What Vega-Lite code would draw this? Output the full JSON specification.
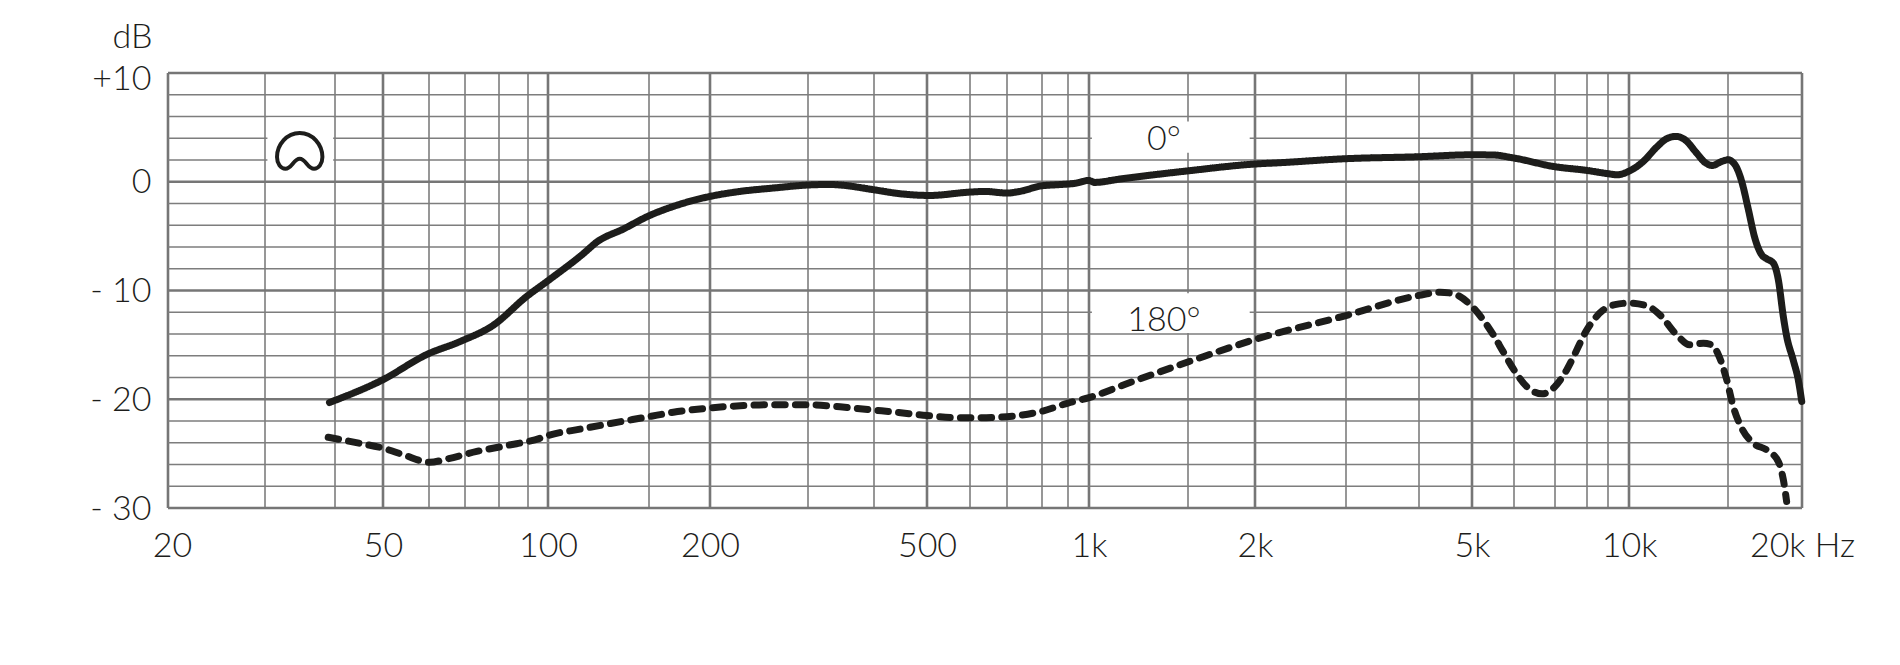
{"$schema":"https://vega.github.io/schema/vega-lite/v6.json","width":1634,"height":435,"autosize":"none","padding":{"left":168,"top":73,"right":98,"bottom":157},"background":"white","config":{"view":{"stroke":null},"text":{"font":"Lato"}},
"datasets":{
"minorF":[{"f":30},{"f":40},{"f":60},{"f":70},{"f":80},{"f":90},{"f":150},{"f":300},{"f":400},{"f":600},{"f":700},{"f":800},{"f":900},{"f":1500},{"f":3000},{"f":4000},{"f":6000},{"f":7000},{"f":8000},{"f":9000},{"f":15000}],
"majorF":[{"f":20},{"f":50},{"f":100},{"f":200},{"f":500},{"f":1000},{"f":2000},{"f":5000},{"f":10000},{"f":20000}],
"minorDb":[{"db":8},{"db":6},{"db":4},{"db":2},{"db":-2},{"db":-4},{"db":-6},{"db":-8},{"db":-12},{"db":-14},{"db":-16},{"db":-18},{"db":-22},{"db":-24},{"db":-26},{"db":-28}],
"majorDb":[{"db":10},{"db":0},{"db":-10},{"db":-20},{"db":-30}],
"patches":[{"f":30.3,"f2":39.7,"db":5.9,"db2":0.2},{"f":1012,"f2":1955,"db":5.55,"db2":2.67},{"f":1012,"f2":1955,"db":-10.25,"db2":-13.9}],
"labels":[{"f":1359,"db":2.88,"text":"0°"},{"f":1359,"db":-13.68,"text":"180°"}],
"icon":[{"f":34.6,"db":2.85}],
"curves":[
{"angle":"0°","f":39.1,"db":-20.3},{"angle":"0°","f":50,"db":-18.2},{"angle":"0°","f":59.4,"db":-15.9},{"angle":"0°","f":68.5,"db":-14.7},{"angle":"0°","f":78.2,"db":-13.2},{"angle":"0°","f":89.5,"db":-10.55},{"angle":"0°","f":100,"db":-9.1},{"angle":"0°","f":115.3,"db":-6.6},{"angle":"0°","f":121.6,"db":-5.55},{"angle":"0°","f":135.3,"db":-4.35},{"angle":"0°","f":150,"db":-3.13},{"angle":"0°","f":168.2,"db":-2.27},{"angle":"0°","f":200,"db":-1.35},{"angle":"0°","f":226.5,"db":-0.89},{"angle":"0°","f":259.8,"db":-0.58},{"angle":"0°","f":300,"db":-0.3},{"angle":"0°","f":330,"db":-0.25},{"angle":"0°","f":345,"db":-0.3},{"angle":"0°","f":400,"db":-0.74},{"angle":"0°","f":446,"db":-1.1},{"angle":"0°","f":506,"db":-1.26},{"angle":"0°","f":600,"db":-0.95},{"angle":"0°","f":638,"db":-0.89},{"angle":"0°","f":700,"db":-1.04},{"angle":"0°","f":735,"db":-0.89},{"angle":"0°","f":800,"db":-0.37},{"angle":"0°","f":854,"db":-0.28},{"angle":"0°","f":940,"db":-0.12},{"angle":"0°","f":997,"db":0.12},{"angle":"0°","f":1025,"db":-0.06},{"angle":"0°","f":1135,"db":0.25},{"angle":"0°","f":1500,"db":1.0},{"angle":"0°","f":2000,"db":1.63},{"angle":"0°","f":2236,"db":1.75},{"angle":"0°","f":3000,"db":2.12},{"angle":"0°","f":4000,"db":2.3},{"angle":"0°","f":5000,"db":2.48},{"angle":"0°","f":5485,"db":2.46},{"angle":"0°","f":6000,"db":2.18},{"angle":"0°","f":7000,"db":1.38},{"angle":"0°","f":8000,"db":1.04},{"angle":"0°","f":9000,"db":0.74},{"angle":"0°","f":9413,"db":0.64},{"angle":"0°","f":10000,"db":0.97},{"angle":"0°","f":10605,"db":1.87},{"angle":"0°","f":11203,"db":3.19},{"angle":"0°","f":11670,"db":3.96},{"angle":"0°","f":12110,"db":4.17},{"angle":"0°","f":12580,"db":3.86},{"angle":"0°","f":13190,"db":2.64},{"angle":"0°","f":13650,"db":1.78},{"angle":"0°","f":14060,"db":1.5},{"angle":"0°","f":14620,"db":1.87},{"angle":"0°","f":15000,"db":2.02},{"angle":"0°","f":15415,"db":1.56},{"angle":"0°","f":15820,"db":0.03},{"angle":"0°","f":16240,"db":-2.58},{"angle":"0°","f":16650,"db":-5.18},{"angle":"0°","f":17100,"db":-6.72},{"angle":"0°","f":17430,"db":-7.08},{"angle":"0°","f":17890,"db":-7.48},{"angle":"0°","f":18240,"db":-9.0},{"angle":"0°","f":18600,"db":-12.4},{"angle":"0°","f":18840,"db":-14.2},{"angle":"0°","f":19330,"db":-16.4},{"angle":"0°","f":19710,"db":-18.2},{"angle":"0°","f":19980,"db":-20.2},
{"angle":"180°","f":38.9,"db":-23.5},{"angle":"180°","f":44.9,"db":-24.05},{"angle":"180°","f":50,"db":-24.5},{"angle":"180°","f":54.2,"db":-25.1},{"angle":"180°","f":60.2,"db":-25.8},{"angle":"180°","f":64.7,"db":-25.5},{"angle":"180°","f":73.3,"db":-24.8},{"angle":"180°","f":82.5,"db":-24.26},{"angle":"180°","f":95.8,"db":-23.6},{"angle":"180°","f":100,"db":-23.34},{"angle":"180°","f":113.7,"db":-22.75},{"angle":"180°","f":124.9,"db":-22.35},{"angle":"180°","f":150,"db":-21.6},{"angle":"180°","f":168.2,"db":-21.2},{"angle":"180°","f":200,"db":-20.8},{"angle":"180°","f":226.5,"db":-20.6},{"angle":"180°","f":259.8,"db":-20.5},{"angle":"180°","f":300,"db":-20.5},{"angle":"180°","f":345,"db":-20.7},{"angle":"180°","f":400,"db":-21.0},{"angle":"180°","f":440,"db":-21.2},{"angle":"180°","f":500,"db":-21.5},{"angle":"180°","f":571,"db":-21.7},{"angle":"180°","f":625,"db":-21.7},{"angle":"180°","f":700,"db":-21.6},{"angle":"180°","f":800,"db":-21.1},{"angle":"180°","f":900,"db":-20.35},{"angle":"180°","f":1000,"db":-19.85},{"angle":"180°","f":1183,"db":-18.46},{"angle":"180°","f":1535,"db":-16.4},{"angle":"180°","f":2000,"db":-14.5},{"angle":"180°","f":3000,"db":-12.3},{"angle":"180°","f":4000,"db":-10.45},{"angle":"180°","f":4368,"db":-10.15},{"angle":"180°","f":4625,"db":-10.3},{"angle":"180°","f":5000,"db":-11.47},{"angle":"180°","f":5250,"db":-12.7},{"angle":"180°","f":5485,"db":-14.08},{"angle":"180°","f":5720,"db":-15.6},{"angle":"180°","f":6000,"db":-17.3},{"angle":"180°","f":6293,"db":-18.83},{"angle":"180°","f":6670,"db":-19.5},{"angle":"180°","f":7000,"db":-18.83},{"angle":"180°","f":7350,"db":-17.3},{"angle":"180°","f":7510,"db":-16.4},{"angle":"180°","f":8000,"db":-13.6},{"angle":"180°","f":8760,"db":-11.8},{"angle":"180°","f":9320,"db":-11.3},{"angle":"180°","f":10000,"db":-11.16},{"angle":"180°","f":10750,"db":-11.4},{"angle":"180°","f":11350,"db":-12.24},{"angle":"180°","f":12160,"db":-14.08},{"angle":"180°","f":12840,"db":-15.0},{"angle":"180°","f":13560,"db":-14.84},{"angle":"180°","f":14030,"db":-15.0},{"angle":"180°","f":14420,"db":-15.9},{"angle":"180°","f":14920,"db":-18.2},{"angle":"180°","f":15310,"db":-20.67},{"angle":"180°","f":15820,"db":-22.66},{"angle":"180°","f":16550,"db":-24.04},{"angle":"180°","f":17430,"db":-24.66},{"angle":"180°","f":18240,"db":-25.73},{"angle":"180°","f":18600,"db":-27.4},{"angle":"180°","f":18840,"db":-29.4}
]},
"layer":[
{"data":{"name":"minorF"},"mark":{"type":"rule","stroke":"#7d7d7d","strokeWidth":1.6},"encoding":{"x":{"field":"f","type":"quantitative","scale":{"type":"log","nice":false,"padding":0,"domain":[20,30,40,50,60,70,80,90,100,150,200,300,400,500,600,700,800,900,1000,1500,2000,3000,4000,5000,6000,7000,8000,9000,10000,15000,20000],"range":[0,97,167,215,261,297,331,360,380,481,542,640,706,759,802,839,874,900,921,1020,1087,1178,1251,1304,1346,1387,1419,1440,1461,1560,1634]},"axis":{"values":[20,50,100,200,500,1000,2000,5000,10000,20000],"title":null,"domain":false,"ticks":false,"grid":false,"labelExpr":"datum.value==20000?'20k Hz':(datum.value>=1000?(datum.value/1000)+'k':''+datum.value)","labelFont":"Lato","labelFontWeight":300,"labelFontSize":34,"labelColor":"#1d1d1b","labelAlign":"center","labelBaseline":"alphabetic","labelPadding":48,"labelOffset":{"condition":{"test":"datum.value==20","value":4},"value":0},"labelFlush":false,"labelOverlap":false,"labelBound":false}}}},
{"data":{"name":"majorF"},"mark":{"type":"rule","stroke":"#767676","strokeWidth":2.6},"encoding":{"x":{"field":"f","type":"quantitative"}}},
{"data":{"name":"minorDb"},"mark":{"type":"rule","stroke":"#7d7d7d","strokeWidth":1.6},"encoding":{"y":{"field":"db","type":"quantitative","scale":{"domain":[-30,10],"nice":false,"zero":false,"padding":0},"axis":{"values":[-30,-20,-10,0,10],"title":"dB","titleAngle":0,"titleAlign":"right","titleBaseline":"alphabetic","titleX":-16,"titleY":-26,"titleFont":"Lato","titleFontWeight":300,"titleFontSize":34,"titleColor":"#1d1d1b","domain":false,"ticks":false,"grid":false,"labelExpr":"datum.value>0?'+'+datum.value:(datum.value<0?'- '+abs(datum.value):'0')","labelFont":"Lato","labelFontWeight":300,"labelFontSize":34,"labelColor":"#1d1d1b","labelPadding":17,"labelBaseline":"middle","labelOffset":{"condition":{"test":"datum.value==10","value":6},"value":1},"labelOverlap":false,"labelFlush":false,"labelBound":false}}}},
{"data":{"name":"majorDb"},"mark":{"type":"rule","stroke":"#767676","strokeWidth":2.6},"encoding":{"y":{"field":"db","type":"quantitative"}}},
{"data":{"name":"patches"},"mark":{"type":"rect","fill":"white"},"encoding":{"x":{"field":"f","type":"quantitative"},"x2":{"field":"f2"},"y":{"field":"db","type":"quantitative"},"y2":{"field":"db2"}}},
{"data":{"name":"curves"},"mark":{"type":"line","stroke":"#1d1d1b","strokeWidth":7,"strokeCap":"round","strokeJoin":"round","interpolate":"monotone"},"encoding":{"x":{"field":"f","type":"quantitative"},"y":{"field":"db","type":"quantitative"},"strokeDash":{"field":"angle","type":"nominal","scale":{"domain":["0°","180°"],"range":[[1,0],[10.5,10.2]]},"legend":null}}},
{"data":{"name":"labels"},"mark":{"type":"text","font":"Lato","fontWeight":300,"fontSize":34,"fill":"#1d1d1b","align":"center","baseline":"alphabetic"},"encoding":{"x":{"field":"f","type":"quantitative"},"y":{"field":"db","type":"quantitative"},"text":{"field":"text","type":"nominal"}}},
{"data":{"name":"icon"},"mark":{"type":"point","filled":false,"size":4,"stroke":"#1d1d1b","strokeWidth":4,"opacity":1,"shape":"M0,-17.7 C13,-17.7 22.7,-6 22.7,6.3 C22.7,13 19,18 14.3,18 C8,18 6,8 0,8 C-6,8 -8,18 -14.3,18 C-19,18 -22.7,13 -22.7,6.3 C-22.7,-6 -13,-17.7 0,-17.7 Z"},"encoding":{"x":{"field":"f","type":"quantitative"},"y":{"field":"db","type":"quantitative"}}}
]}
